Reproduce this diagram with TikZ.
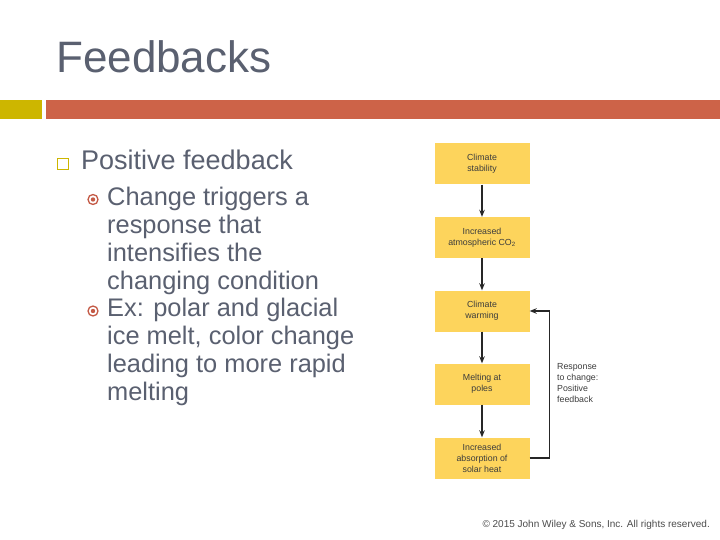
\documentclass[tikz,border=0pt]{standalone}
\usepackage{fontspec}
\setmainfont{Liberation Sans}
\usetikzlibrary{arrows.meta,positioning}
\definecolor{slidegray}{RGB}{90,96,112}
\definecolor{baryellow}{RGB}{205,182,0}
\definecolor{barorange}{RGB}{205,99,72}
\definecolor{bulletred}{RGB}{196,90,70}
\definecolor{boxyellow}{RGB}{253,212,92}
\definecolor{flowtext}{RGB}{60,60,60}

\begin{document}
\begin{tikzpicture}[x=1pt,y=-1pt,
  flowbox/.style={fill=boxyellow,minimum width=95pt,minimum height=41pt,inner sep=1pt,align=center,
    font=\fontsize{8.8}{11}\selectfont,text=flowtext},
  flowarrow/.style={line width=1.2pt,draw=black!85,-{Stealth[length=7pt,width=5.5pt]}},
  bodytext/.style={anchor=base west,inner sep=0pt,align=left,text=slidegray},
  ringbullet/.style={circle,draw=bulletred,line width=1.3pt,minimum size=10pt,inner sep=0pt}]
  \fill[white](0,0)rectangle(720,540);
  \useasboundingbox(0,0)rectangle(720,540);
  \node[bodytext,font=\fontsize{44}{48}\selectfont] (title) at (56,73) {Feedbacks};
  \fill[baryellow](0,100)rectangle(42,119);
  \fill[barorange](46,100)rectangle(720,119);
  \begin{scope}
    \draw[baryellow,line width=1.6pt](57.5,158.5)rectangle(68.5,169.5);
    \node[bodytext,font=\fontsize{27}{30}\selectfont] (pos) at (81,170) {Positive feedback};
    \node[ringbullet] (b1) at (93,199.5) {};
    \fill[bulletred](b1.center)circle(2.2pt);
    \node[bodytext,font=\fontsize{25.4}{28}\selectfont] (change) at (107,289)
      {Change triggers a\\response that\\intensifies the\\changing condition};
    \node[ringbullet] (b2) at (93,311) {};
    \fill[bulletred](b2.center)circle(2.2pt);
    \node[bodytext,font=\fontsize{25.4}{28}\selectfont] (example) at (107,400)
      {Ex: polar and glacial\\ice melt, color change\\leading to more rapid\\melting};
  \end{scope}
  \begin{scope}
    \node[flowbox] (stab) at (482,164) {Climate\\stability};
    \node[flowbox] (co2) at (482,237.5) {Increased\\atmospheric CO\textsubscript{2}};
    \node[flowbox] (warm) at (482,311) {Climate\\warming};
    \node[flowbox] (melt) at (482,384) {Melting at\\poles};
    \node[flowbox] (absorb) at (482,458) {Increased\\absorption of\\solar heat};
    \draw[flowarrow](stab)--(co2);
    \draw[flowarrow](co2)--(warm);
    \draw[flowarrow](warm)--(melt);
    \draw[flowarrow](melt)--(absorb);
    \draw[flowarrow](absorb.east)--++(20,0)|-(warm.east);
    \node[anchor=west,align=left,inner sep=0pt,text=flowtext,font=\fontsize{8.8}{10.7}\selectfont]
      (resp) at (557,383) {Response\\to change:\\Positive\\feedback};
  \end{scope}
  \node[anchor=base east,inner sep=0pt,text=black!70,font=\fontsize{10}{11}\selectfont]
    (copy) at (710,527) {© 2015 John Wiley \& Sons, Inc. All rights reserved.};
\end{tikzpicture}
\end{document}
